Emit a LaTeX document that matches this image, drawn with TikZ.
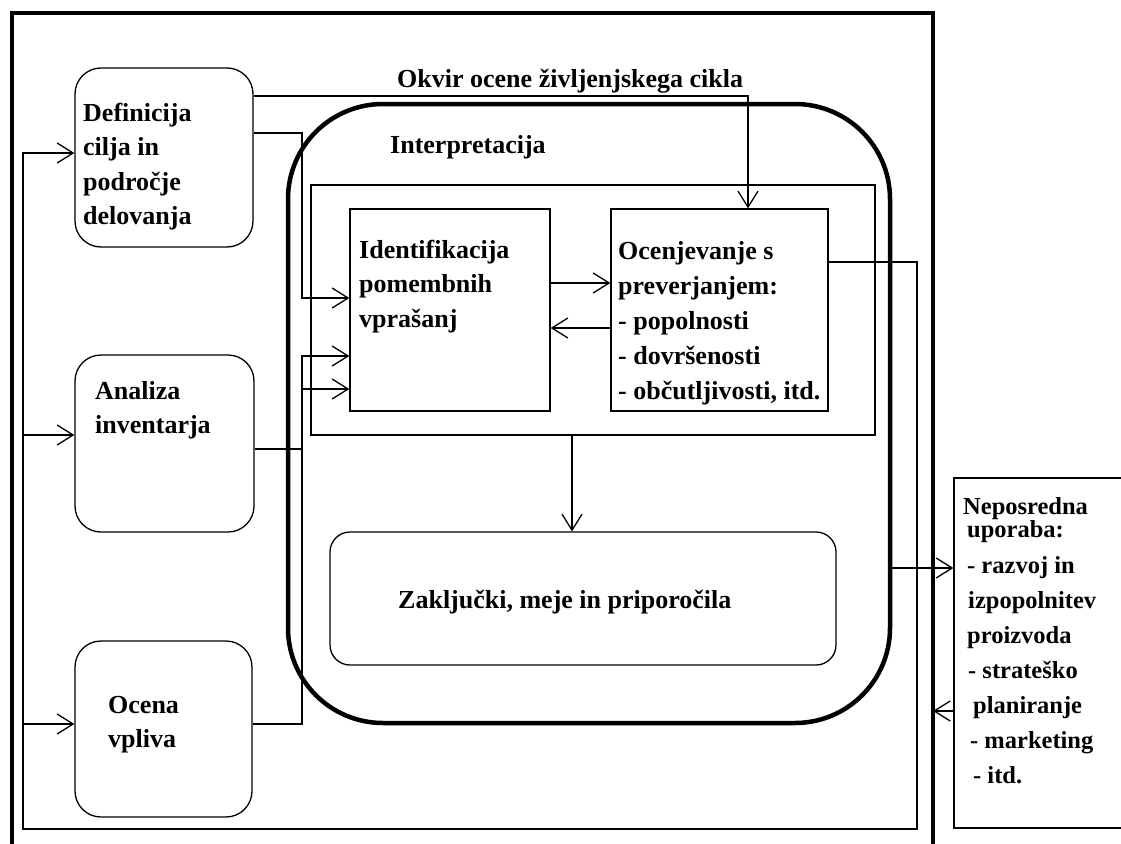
\documentclass[tikz,border=0pt]{standalone}
\usepackage{fontspec}
\setmainfont{Liberation Serif}
\usetikzlibrary{arrows.meta}
% fixed height of the first line, so multi-line labels can be placed by their first baseline
\newcommand{\firstline}{\rule{0pt}{20pt}}
\begin{document}
\begin{tikzpicture}[x=1pt,y=-1pt,
  box/.style={draw, line width=1.3pt, inner sep=0pt},
  rbox/.style={box, rounded corners=26pt},
  txt/.style={inner sep=0pt, font=\fontsize{26}{34.5}\selectfont\bfseries, align=left},
  link/.style={line width=1.3pt},
  arr/.style={link, -{Straight Barb[length=16pt,width=20pt,line width=1.3pt]}},
  heavy/.style={line width=4.5pt}]

\useasboundingbox (0,0) rectangle (1121,843);
\clip (0,0) rectangle (1121,843);

% outer frame (open towards the bottom edge)
\draw[line width=4pt] (12,860) -- (12,13) -- (933,13) -- (933,860);
\coordinate (frameR) at (933,711);

% phases on the left
\node[rbox, minimum width=178pt, minimum height=179pt] (def)   at (164,157.5) {};
\node[rbox, minimum width=179pt, minimum height=177pt] (anal)  at (164.5,443.5) {};
\node[rbox, minimum width=177pt, minimum height=176pt] (ocena) at (163.5,729) {};

% interpretation block
\node[draw, heavy, rounded corners=95pt, minimum width=602pt, minimum height=619pt] (interp) at (589,413.5) {};
\node[box, minimum width=564pt, minimum height=250pt] (grp)   at (593,310) {};
\node[box, minimum width=200pt, minimum height=202pt] (ident) at (450,310) {};
\node[box, minimum width=217pt, minimum height=202pt] (ocenj) at (719.5,310) {};
\node[box, rounded corners=20pt, minimum width=506pt, minimum height=133pt] (zakl) at (583,598.5) {};

% applications
\node[box, minimum width=200pt, minimum height=350pt] (nepos) at (1054,653) {};

% labels
\node[txt, anchor=base west] (ttl)  at (397,87)  {Okvir ocene življenjskega cikla};
\node[txt, anchor=base west] (tint) at (390,153) {Interpretacija};
\node[txt, anchor=north west] (tdef)   at (83,101)  {\firstline Definicija\\cilja in\\področje\\delovanja};
\node[txt, anchor=north west] (tanal)  at (95,379)  {\firstline Analiza\\inventarja};
\node[txt, anchor=north west] (tocena) at (108,693) {\firstline Ocena\\vpliva};
\node[txt, anchor=north west] (tident) at (359,238) {\firstline Identifikacija\\pomembnih\\vprašanj};
\node[txt, anchor=north west, font=\fontsize{26}{35}\selectfont\bfseries] (tocenj) at (618,239)
  {\firstline Ocenjevanje s\\preverjanjem:\\- popolnosti\\- dovršenosti\\- občutljivosti, itd.};
\node[txt, anchor=base west] (tzakl) at (398,608) {Zaključki, meje in priporočila};
\node[txt, anchor=north west, font=\fontsize{24.5}{35}\selectfont\bfseries] (tnep) at (963,494)
  {\firstline Neposredna\\[-12pt]
   \hspace*{4pt}uporaba:\\[1pt]
   \hspace*{4pt}- razvoj in\\
   \hspace*{5pt}izpopolnitev\\
   \hspace*{4pt}proizvoda\\
   \hspace*{5pt}- strateško\\
   \hspace*{10pt}planiranje\\
   \hspace*{7pt}- marketing\\
   \hspace*{10pt}- itd.};

% goal definition feeds the assessment and the identification
\coordinate (topbend) at (748,96);
\draw[arr] (def.east |- topbend) -- (topbend) -- (topbend |- ocenj.north);
\coordinate (busD) at (302,133);
\coordinate (inD)  at (302,298);
\draw[arr] (def.east |- busD) -- (busD) -- (inD) -- (inD -| ident.west);

% inventory analysis and impact assessment feed the identification
\coordinate (busA) at (302,449);
\coordinate (inA)  at (302,356);
\draw[arr] (anal.east |- busA) -- (busA) -- (inA) -- (inA -| ident.west);
\coordinate (busO) at (302,724);
\coordinate (inO)  at (302,389);
\draw[arr] (ocena.east |- busO) -- (busO) -- (inO) -- (inO -| ident.west);

% identification <-> assessment
\coordinate (fwd)  at (0,283);
\coordinate (back) at (0,328);
\draw[arr] (ident.east |- fwd) -- (ocenj.west |- fwd);
\draw[arr] (ocenj.west |- back) -- (ident.east |- back);

% to conclusions
\coordinate (down) at (572,0);
\draw[arr] (grp.south -| down) -- (zakl.north -| down);

% feedback loop back to the phases
\coordinate (fbTop) at (917,262);
\coordinate (fbBot) at (23,829);
\coordinate (fbTL)  at (23,153);
\coordinate (fbA)   at (23,435);
\coordinate (fbO)   at (23,724);
\draw[arr] (ocenj.east |- fbTop) -- (fbTop) |- (fbBot) -- (fbTL) -- (fbTL -| def.west);
\draw[arr] (fbA) -- (fbA -| anal.west);
\draw[arr] (fbO) -- (fbO -| ocena.west);

% direct applications
\coordinate (outrow) at (0,568);
\draw[arr] (interp.east |- outrow) -- (nepos.west |- outrow);
\draw[arr] (nepos.west |- frameR) -- (frameR);
\end{tikzpicture}
\end{document}
